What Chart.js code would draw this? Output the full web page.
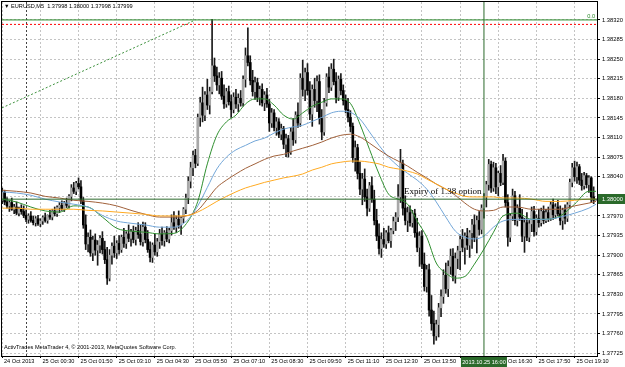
<!DOCTYPE html>
<html>
<head>
<meta charset="utf-8">
<title>EURUSD,M5</title>
<script src="https://cdn.jsdelivr.net/npm/chart.js@4.4.1/dist/chart.umd.min.js"></script>
<style>
  html, body { margin: 0; padding: 0; background: #fff; }
  #wrap { width: 625px; height: 367px; }
</style>
</head>
<body>
<div id="wrap"><canvas id="chart" width="625" height="367"></canvas></div>
<script>
// EURUSD M5 candles, bar index 0 = 25 Oct 2013 00:00 (one bar every 5 minutes)
const firstBar = -10;
const open = [
  1.37998,1.38012,1.37995,1.37988,1.37994,1.37982,1.37986,1.37975,1.37982,1.37978,
  1.37971,1.37964,1.37970,1.37962,1.37958,1.37965,1.37956,1.37961,1.37967,1.37962,
  1.37971,1.37968,1.37979,1.37974,1.37985,1.37989,1.37983,1.37993,1.37989,1.38005,
  1.38020,1.38014,1.38028,1.38022,1.37997,1.37954,1.37920,1.37932,1.37904,1.37927,
  1.37909,1.37918,1.37930,1.37910,1.37892,1.37859,1.37900,1.37916,1.37904,1.37921,
  1.37910,1.37932,1.37921,1.37938,1.37930,1.37942,1.37928,1.37944,1.37937,1.37924,
  1.37950,1.37928,1.37910,1.37896,1.37918,1.37906,1.37924,1.37938,1.37926,1.37940,
  1.37929,1.37944,1.37958,1.37950,1.37964,1.37954,1.37966,1.37982,1.38002,1.38032,
  1.38056,1.38078,1.38064,1.38146,1.38172,1.38150,1.38186,1.38168,1.38192,1.38238,
  1.38220,1.38204,1.38216,1.38184,1.38170,1.38192,1.38174,1.38160,1.38182,1.38170,
  1.38180,1.38172,1.38214,1.38256,1.38244,1.38212,1.38192,1.38208,1.38182,1.38196,
  1.38172,1.38186,1.38170,1.38136,1.38154,1.38128,1.38138,1.38116,1.38126,1.38098,
  1.38108,1.38084,1.38120,1.38106,1.38150,1.38136,1.38216,1.38196,1.38226,1.38194,
  1.38152,1.38196,1.38176,1.38210,1.38144,1.38120,1.38172,1.38218,1.38200,1.38232,
  1.38210,1.38182,1.38214,1.38194,1.38176,1.38160,1.38146,1.38130,1.38074,1.38092,
  1.38046,1.38018,1.38036,1.38004,1.37984,1.38024,1.38000,1.37962,1.37934,1.37912,
  1.37928,1.37920,1.37940,1.37926,1.37944,1.37960,1.37968,1.38004,1.38064,1.37984,
  1.37962,1.37976,1.37958,1.37974,1.37940,1.37914,1.37934,1.37884,1.37844,1.37874,
  1.37802,1.37778,1.37756,1.37776,1.37806,1.37826,1.37864,1.37840,1.37880,1.37898,
  1.37864,1.37894,1.37908,1.37928,1.37914,1.37934,1.37918,1.37940,1.37954,1.37932,
  1.37962,1.37946,1.37984,1.38004,1.38026,1.38062,1.38020,1.38056,1.38022,1.38046,
  1.38030,1.38068,1.37994,1.37932,1.37970,1.38006,1.37962,1.37984,1.37968,1.37934,
  1.37958,1.37932,1.37956,1.37978,1.37942,1.37966,1.37958,1.37978,1.37962,1.37976,
  1.37966,1.37990,1.37972,1.37986,1.37974,1.37962,1.37980,1.37966,1.37990,1.38030,
  1.38056,1.38040,1.38058,1.38034,1.38024,1.38042,1.38026,1.38038,1.38004,1.37998
];
const high = [
  1.38020,1.38016,1.38003,1.37997,1.38002,1.37991,1.37995,1.37986,1.37990,1.37988,
  1.37981,1.37974,1.37978,1.37970,1.37969,1.37971,1.37965,1.37970,1.37975,1.37972,
  1.37980,1.37982,1.37986,1.37988,1.37994,1.37997,1.37996,1.38002,1.38008,1.38026,
  1.38030,1.38032,1.38038,1.38033,1.38003,1.37972,1.37940,1.37945,1.37934,1.37938,
  1.37926,1.37935,1.37942,1.37925,1.37914,1.37910,1.37922,1.37934,1.37926,1.37935,
  1.37936,1.37948,1.37942,1.37954,1.37946,1.37952,1.37950,1.37958,1.37954,1.37959,
  1.37958,1.37944,1.37924,1.37922,1.37937,1.37930,1.37946,1.37950,1.37944,1.37951,
  1.37948,1.37972,1.37978,1.37970,1.37979,1.37968,1.37985,1.38009,1.38040,1.38066,
  1.38086,1.38089,1.38152,1.38182,1.38200,1.38192,1.38214,1.38200,1.38321,1.38252,
  1.38236,1.38226,1.38228,1.38204,1.38198,1.38202,1.38186,1.38190,1.38196,1.38188,
  1.38194,1.38220,1.38270,1.38306,1.38256,1.38230,1.38218,1.38216,1.38202,1.38206,
  1.38192,1.38198,1.38178,1.38162,1.38160,1.38146,1.38144,1.38134,1.38130,1.38116,
  1.38114,1.38128,1.38144,1.38156,1.38172,1.38224,1.38248,1.38234,1.38242,1.38210,
  1.38204,1.38216,1.38220,1.38222,1.38160,1.38180,1.38224,1.38236,1.38242,1.38250,
  1.38226,1.38220,1.38224,1.38204,1.38186,1.38180,1.38158,1.38136,1.38104,1.38098,
  1.38066,1.38046,1.38054,1.38018,1.38030,1.38040,1.38016,1.37982,1.37956,1.37940,
  1.37948,1.37944,1.37952,1.37948,1.37968,1.37976,1.38026,1.38089,1.38070,1.38006,
  1.37986,1.37988,1.37980,1.37982,1.37966,1.37942,1.37944,1.37904,1.37882,1.37884,
  1.37828,1.37800,1.37784,1.37814,1.37838,1.37874,1.37886,1.37890,1.37911,1.37912,
  1.37904,1.37916,1.37934,1.37946,1.37940,1.37948,1.37944,1.37964,1.37972,1.37970,
  1.37978,1.37990,1.38010,1.38032,1.38071,1.38068,1.38066,1.38064,1.38050,1.38060,
  1.38080,1.38074,1.38008,1.37974,1.38018,1.38014,1.37990,1.38008,1.37982,1.37966,
  1.37976,1.37962,1.37986,1.37987,1.37972,1.37982,1.37984,1.37988,1.37982,1.37986,
  1.37996,1.38000,1.37992,1.37998,1.37988,1.37984,1.37990,1.37994,1.38036,1.38064,
  1.38068,1.38066,1.38062,1.38046,1.38048,1.38046,1.38042,1.38040,1.38022,1.38000
];
const low = [
  1.37992,1.37990,1.37984,1.37978,1.37980,1.37974,1.37972,1.37970,1.37973,1.37967,
  1.37960,1.37957,1.37959,1.37954,1.37952,1.37953,1.37951,1.37955,1.37959,1.37957,
  1.37964,1.37963,1.37970,1.37969,1.37976,1.37980,1.37978,1.37985,1.37984,1.37997,
  1.38010,1.38008,1.38018,1.37992,1.37948,1.37910,1.37906,1.37898,1.37890,1.37900,
  1.37882,1.37904,1.37902,1.37885,1.37848,1.37854,1.37884,1.37896,1.37894,1.37902,
  1.37905,1.37914,1.37912,1.37924,1.37916,1.37922,1.37918,1.37930,1.37918,1.37916,
  1.37922,1.37905,1.37888,1.37887,1.37900,1.37898,1.37912,1.37918,1.37916,1.37924,
  1.37922,1.37936,1.37946,1.37940,1.37948,1.37937,1.37958,1.37974,1.37992,1.38020,
  1.38042,1.38056,1.38060,1.38130,1.38138,1.38140,1.38160,1.38152,1.38188,1.38210,
  1.38194,1.38188,1.38178,1.38162,1.38164,1.38168,1.38146,1.38154,1.38162,1.38156,
  1.38166,1.38166,1.38200,1.38238,1.38204,1.38184,1.38178,1.38174,1.38168,1.38166,
  1.38158,1.38164,1.38121,1.38128,1.38122,1.38114,1.38110,1.38106,1.38090,1.38076,
  1.38075,1.38080,1.38096,1.38100,1.38128,1.38130,1.38184,1.38176,1.38186,1.38142,
  1.38130,1.38164,1.38156,1.38134,1.38106,1.38114,1.38166,1.38190,1.38194,1.38204,
  1.38172,1.38176,1.38186,1.38168,1.38154,1.38138,1.38120,1.38066,1.38050,1.38036,
  1.38008,1.37990,1.37996,1.37970,1.37978,1.37994,1.37954,1.37926,1.37902,1.37896,
  1.37914,1.37912,1.37922,1.37914,1.37938,1.37944,1.37960,1.37994,1.37972,1.37954,
  1.37942,1.37952,1.37950,1.37932,1.37906,1.37880,1.37876,1.37836,1.37834,1.37791,
  1.37766,1.37741,1.37748,1.37754,1.37790,1.37814,1.37832,1.37826,1.37866,1.37854,
  1.37850,1.37876,1.37874,1.37906,1.37884,1.37910,1.37896,1.37912,1.37924,1.37904,
  1.37936,1.37938,1.37966,1.37986,1.38016,1.38012,1.38014,1.38010,1.38006,1.38024,
  1.38026,1.37986,1.37916,1.37924,1.37962,1.37954,1.37952,1.37962,1.37924,1.37905,
  1.37926,1.37924,1.37942,1.37934,1.37936,1.37950,1.37952,1.37956,1.37958,1.37960,
  1.37962,1.37964,1.37966,1.37970,1.37954,1.37946,1.37956,1.37960,1.37984,1.38022,
  1.38032,1.38028,1.38026,1.38016,1.38018,1.38020,1.38012,1.37994,1.37992,1.37998
];
const close = [
  1.38012,1.37995,1.37988,1.37994,1.37982,1.37986,1.37975,1.37982,1.37978,1.37971,
  1.37964,1.37970,1.37962,1.37958,1.37965,1.37956,1.37961,1.37967,1.37962,1.37971,
  1.37968,1.37979,1.37974,1.37985,1.37989,1.37983,1.37993,1.37989,1.38005,1.38020,
  1.38014,1.38028,1.38022,1.37997,1.37954,1.37920,1.37932,1.37904,1.37927,1.37909,
  1.37918,1.37930,1.37910,1.37892,1.37859,1.37900,1.37916,1.37904,1.37921,1.37910,
  1.37932,1.37921,1.37938,1.37930,1.37942,1.37928,1.37944,1.37937,1.37924,1.37950,
  1.37928,1.37910,1.37896,1.37918,1.37906,1.37924,1.37938,1.37926,1.37940,1.37929,
  1.37944,1.37958,1.37950,1.37964,1.37954,1.37966,1.37982,1.38002,1.38032,1.38056,
  1.38078,1.38064,1.38146,1.38172,1.38150,1.38186,1.38168,1.38192,1.38238,1.38220,
  1.38204,1.38216,1.38184,1.38170,1.38192,1.38174,1.38160,1.38182,1.38170,1.38180,
  1.38172,1.38214,1.38256,1.38244,1.38212,1.38192,1.38208,1.38182,1.38196,1.38172,
  1.38186,1.38170,1.38136,1.38154,1.38128,1.38138,1.38116,1.38126,1.38098,1.38108,
  1.38084,1.38120,1.38106,1.38150,1.38136,1.38216,1.38196,1.38226,1.38194,1.38152,
  1.38196,1.38176,1.38210,1.38144,1.38120,1.38172,1.38218,1.38200,1.38232,1.38210,
  1.38182,1.38214,1.38194,1.38176,1.38160,1.38146,1.38130,1.38074,1.38092,1.38046,
  1.38018,1.38036,1.38004,1.37984,1.38024,1.38000,1.37962,1.37934,1.37912,1.37928,
  1.37920,1.37940,1.37926,1.37944,1.37960,1.37968,1.38004,1.38064,1.37984,1.37962,
  1.37976,1.37958,1.37974,1.37940,1.37914,1.37934,1.37884,1.37844,1.37874,1.37802,
  1.37778,1.37756,1.37776,1.37806,1.37826,1.37864,1.37840,1.37880,1.37898,1.37864,
  1.37894,1.37908,1.37928,1.37914,1.37934,1.37918,1.37940,1.37954,1.37932,1.37962,
  1.37946,1.37984,1.38004,1.38026,1.38062,1.38020,1.38056,1.38022,1.38046,1.38030,
  1.38068,1.37994,1.37932,1.37970,1.38006,1.37962,1.37984,1.37968,1.37934,1.37958,
  1.37932,1.37956,1.37978,1.37942,1.37966,1.37958,1.37978,1.37962,1.37976,1.37966,
  1.37990,1.37972,1.37986,1.37974,1.37962,1.37980,1.37966,1.37990,1.38030,1.38056,
  1.38040,1.38058,1.38034,1.38024,1.38042,1.38026,1.38038,1.38004,1.37998,1.37999
];

const maBars = [-10,-4,2,8,14,20,26,32,38,44,50,56,62,68,72,76,80,84,88,92,96,100,104,108,112,116,120,124,128,132,
  136,140,144,148,152,156,160,164,168,172,176,180,184,188,192,196,200,206,212,218,224,230,236,239];
const maGreen = [1.38000,1.37995,1.37986,1.37979,1.37977,1.37988,1.37986,1.37968,1.37948,1.37943,
  1.37941,1.37938,1.37939,1.37961,1.37996,1.38063,1.38114,1.38138,1.38150,1.38170,
  1.38179,1.38179,1.38168,1.38150,1.38143,1.38154,1.38166,1.38173,1.38179,1.38179,
  1.38171,1.38134,1.38089,1.38045,1.38009,1.38000,1.37991,1.37961,1.37932,1.37886,
  1.37868,1.37859,1.37862,1.37884,1.37911,1.37941,1.37970,1.37975,1.37964,1.37964,
  1.37970,1.37991,1.38014,1.38014];
const maBlue = [1.38013,1.38011,1.38007,1.38000,1.37995,1.37991,1.37986,1.37971,1.37961,1.37957,
  1.37954,1.37950,1.37950,1.37964,1.37988,1.38021,1.38054,1.38075,1.38088,1.38096,
  1.38104,1.38109,1.38118,1.38125,1.38129,1.38132,1.38139,1.38146,1.38154,1.38157,
  1.38155,1.38143,1.38120,1.38096,1.38075,1.38059,1.38046,1.38034,1.38018,1.37995,
  1.37968,1.37943,1.37932,1.37929,1.37934,1.37950,1.37961,1.37964,1.37964,1.37964,
  1.37968,1.37975,1.37984,1.37991];
const maBrown = [1.38016,1.38014,1.38011,1.38005,1.38002,1.37998,1.37996,1.37993,1.37988,1.37980,
  1.37973,1.37968,1.37968,1.37971,1.37980,1.38000,1.38021,1.38034,1.38045,1.38055,
  1.38063,1.38071,1.38077,1.38080,1.38086,1.38091,1.38096,1.38102,1.38109,1.38114,
  1.38116,1.38111,1.38100,1.38088,1.38077,1.38068,1.38059,1.38048,1.38038,1.38027,
  1.38018,1.38007,1.37993,1.37982,1.37979,1.37980,1.37986,1.37986,1.37982,1.37982,
  1.37982,1.37988,1.37993,1.37996];
const maOrange = [1.37984,1.37984,1.37982,1.37982,1.37982,1.37982,1.37980,1.37979,1.37977,1.37975,
  1.37973,1.37970,1.37970,1.37971,1.37977,1.37986,1.37996,1.38005,1.38013,1.38020,
  1.38025,1.38030,1.38034,1.38038,1.38041,1.38045,1.38052,1.38057,1.38063,1.38066,
  1.38068,1.38068,1.38066,1.38063,1.38057,1.38054,1.38050,1.38045,1.38036,1.38027,
  1.38018,1.38011,1.38005,1.38004,1.38004,1.38004,1.38002,1.38002,1.38000,1.37996,
  1.37996,1.37998,1.38000,1.38000];

// axes
const xMin = -10.1, xMax = 239.4;
const yMin = 1.37720, yMax = 1.38352;
const priceTicks = [1.37725,1.37760,1.37795,1.37830,1.37865,1.37900,1.37935,1.37970,1.38005,
  1.38040,1.38075,1.38110,1.38145,1.38180,1.38215,1.38250,1.38285,1.38320];
const timeTicks = [-10.1,6,22,38,54,70,86,102,118,134,150,166,182,198,214,230];
const timeLabels = ['24 Oct 2013','25 Oct 00:30','25 Oct 01:50','25 Oct 03:10','25 Oct 04:30',
  '25 Oct 05:50','25 Oct 07:10','25 Oct 08:30','25 Oct 09:50','25 Oct 11:10','25 Oct 12:30',
  '25 Oct 13:50','25 Oct 15:10','25 Oct 16:30','25 Oct 17:50','25 Oct 19:10'];

// drawn objects
const fiboHigh = 1.38320;
const redLevel = 1.38312;
const fiboFrom = [-10.1, 1.38163], fiboTo = [71, 1.38320];
const optionLevel = 1.38000;
const cursorBar = 192, cursorLabel = '2013.10.25 16:00';
const daySeparator = 0;
const noteText = 'Expiry of 1.38 option', notePos = [158.5, 1.38009];

const uiFont = "'Liberation Sans', Arial, sans-serif";
const darkGreen = '#2b6a2b';

const bars = open.map((o, i) => firstBar + i);
const isBull = open.map((o, i) => close[i] >= o);

function hline(price, color, dash) {
  return {
    type: 'line', data: [{x: xMin, y: price}, {x: xMax, y: price}],
    borderColor: color, borderWidth: 1, borderDash: dash || [], pointRadius: 0, order: 0
  };
}
function maLine(values, color) {
  return {
    type: 'line', data: maBars.map((b, i) => ({x: b, y: values[i]})),
    borderColor: color, borderWidth: 1, pointRadius: 0,
    cubicInterpolationMode: 'monotone', order: 1
  };
}

const overlay = {
  id: 'overlay',
  beforeDatasetsDraw(chart) {
    const {ctx, chartArea: a, scales: {x}} = chart;
    const sx = Math.round(x.getPixelForValue(daySeparator)) + 0.5;
    ctx.save();
    ctx.strokeStyle = '#444';
    ctx.lineWidth = 1;
    ctx.setLineDash([2, 2]);
    ctx.beginPath();
    ctx.moveTo(sx, a.top);
    ctx.lineTo(sx, a.bottom);
    ctx.stroke();
    ctx.restore();
  },
  afterDraw(chart) {
    const {ctx, chartArea: a, scales: {x, y}} = chart;
    ctx.save();
    // frame
    ctx.strokeStyle = '#000';
    ctx.lineWidth = 1;
    ctx.strokeRect(a.left - 0.5, a.top - 0.5, a.width + 1, a.height + 1);

    ctx.fillStyle = '#000';
    ctx.font = '5.6px ' + uiFont;
    ctx.textBaseline = 'middle';
    ctx.textAlign = 'left';
    const last = open.length - 1;
    const ohlc = [open[last], high[last], low[last], close[last]].map(v => v.toFixed(5)).join(' ');
    ctx.fillText('\u25BC EURUSD,M5  ' + ohlc, 4, 6);
    ctx.fillText('ActivTrades MetaTrader 4, \u00A9 2001-2013, MetaQuotes Software Corp.', 4, 347);

    // fibo level label
    ctx.fillStyle = '#2a8a2a';
    ctx.textAlign = 'right';
    ctx.fillText('0.0', a.right - 2, y.getPixelForValue(fiboHigh) - 3);

    // note
    ctx.fillStyle = '#000';
    ctx.textAlign = 'left';
    ctx.textBaseline = 'alphabetic';
    ctx.font = "9px 'Liberation Serif', 'Times New Roman', serif";
    ctx.fillText(noteText, x.getPixelForValue(notePos[0]), y.getPixelForValue(notePos[1]));

    // price box
    ctx.font = '5.8px ' + uiFont;
    ctx.textBaseline = 'middle';
    const py = Math.round(y.getPixelForValue(optionLevel));
    ctx.fillStyle = darkGreen;
    ctx.fillRect(a.right + 1, py - 5, 27, 10);
    ctx.fillStyle = '#fff';
    ctx.fillText(optionLevel.toFixed(5), a.right + 5, py);

    // time box
    const cx = x.getPixelForValue(cursorBar);
    ctx.font = '5.6px ' + uiFont;
    ctx.fillStyle = darkGreen;
    ctx.fillRect(cx - 23, a.bottom + 1, 46, 10);
    ctx.fillStyle = '#fff';
    ctx.textAlign = 'center';
    ctx.fillText(cursorLabel, cx, a.bottom + 6);
    ctx.restore();
  }
};

const ctx = document.getElementById('chart').getContext('2d');
const chart = new Chart(ctx, {
  type: 'bar',
  data: {
    datasets: [
      hline(fiboHigh, '#2a8a2a'),
      hline(redLevel, '#ff0000', [2, 2]),
      {
        type: 'line', data: [{x: fiboFrom[0], y: fiboFrom[1]}, {x: fiboTo[0], y: fiboTo[1]}],
        borderColor: '#3c903c', borderWidth: 1, borderDash: [2, 2], pointRadius: 0, order: 0
      },
      hline(optionLevel, darkGreen),
      {
        type: 'line', data: [{x: cursorBar, y: yMin}, {x: cursorBar, y: yMax}],
        borderColor: darkGreen, borderWidth: 1, pointRadius: 0, order: 0
      },
      maLine(maOrange, '#ffaa22'),
      maLine(maBrown, '#a0603a'),
      maLine(maBlue, '#72a6d8'),
      maLine(maGreen, '#2f8f2f'),
      {
        // candle bodies
        data: bars.map((b, i) => ({x: b, y: [open[i], close[i]]})),
        backgroundColor: isBull.map(u => u ? '#a8a8a8' : '#000000'),
        borderWidth: 0, grouped: false, barPercentage: 1, categoryPercentage: 1,
        maxBarThickness: 2, order: 2
      },
      {
        // wicks
        data: bars.map((b, i) => ({x: b, y: [low[i], high[i]]})),
        backgroundColor: '#1a1a1a',
        borderWidth: 0, grouped: false, barPercentage: 1, categoryPercentage: 1,
        maxBarThickness: 1, order: 3
      }
    ]
  },
  options: {
    responsive: false,
    animation: false,
    events: [],
    layout: { padding: { left: 2, top: 2, right: 0, bottom: 0 } },
    plugins: { legend: { display: false }, tooltip: { enabled: false } },
    scales: {
      x: {
        type: 'linear', min: xMin, max: xMax, offset: false,
        afterBuildTicks: s => { s.ticks = timeTicks.map(v => ({value: v})); },
        afterFit: s => { s.height = 11; s.paddingLeft = 0; s.paddingRight = 0; },
        grid: { color: '#c4c4c4', lineWidth: 1, offset: false, drawTicks: true, tickLength: 2, tickColor: '#000' },
        border: { display: false, dash: [2, 2] },
        ticks: {
          autoSkip: false, maxRotation: 0, minRotation: 0, align: 'start', padding: 0, labelOffset: 2,
          color: '#000', font: { family: uiFont, size: 5.6 },
          callback: (v, i) => timeLabels[i]
        }
      },
      y: {
        type: 'linear', position: 'right', min: yMin, max: yMax,
        afterBuildTicks: s => { s.ticks = priceTicks.map(v => ({value: v})); },
        afterFit: s => { s.width = 28; s.paddingTop = 0; s.paddingBottom = 0; },
        grid: { color: '#c4c4c4', lineWidth: 1, drawTicks: true, tickLength: 3, tickColor: '#000' },
        border: { display: false, dash: [2, 2] },
        ticks: {
          autoSkip: false, padding: 2, color: '#000', font: { family: uiFont, size: 5.8 },
          callback: v => v.toFixed(5)
        }
      }
    }
  },
  plugins: [overlay]
});
</script>
</body>
</html>
